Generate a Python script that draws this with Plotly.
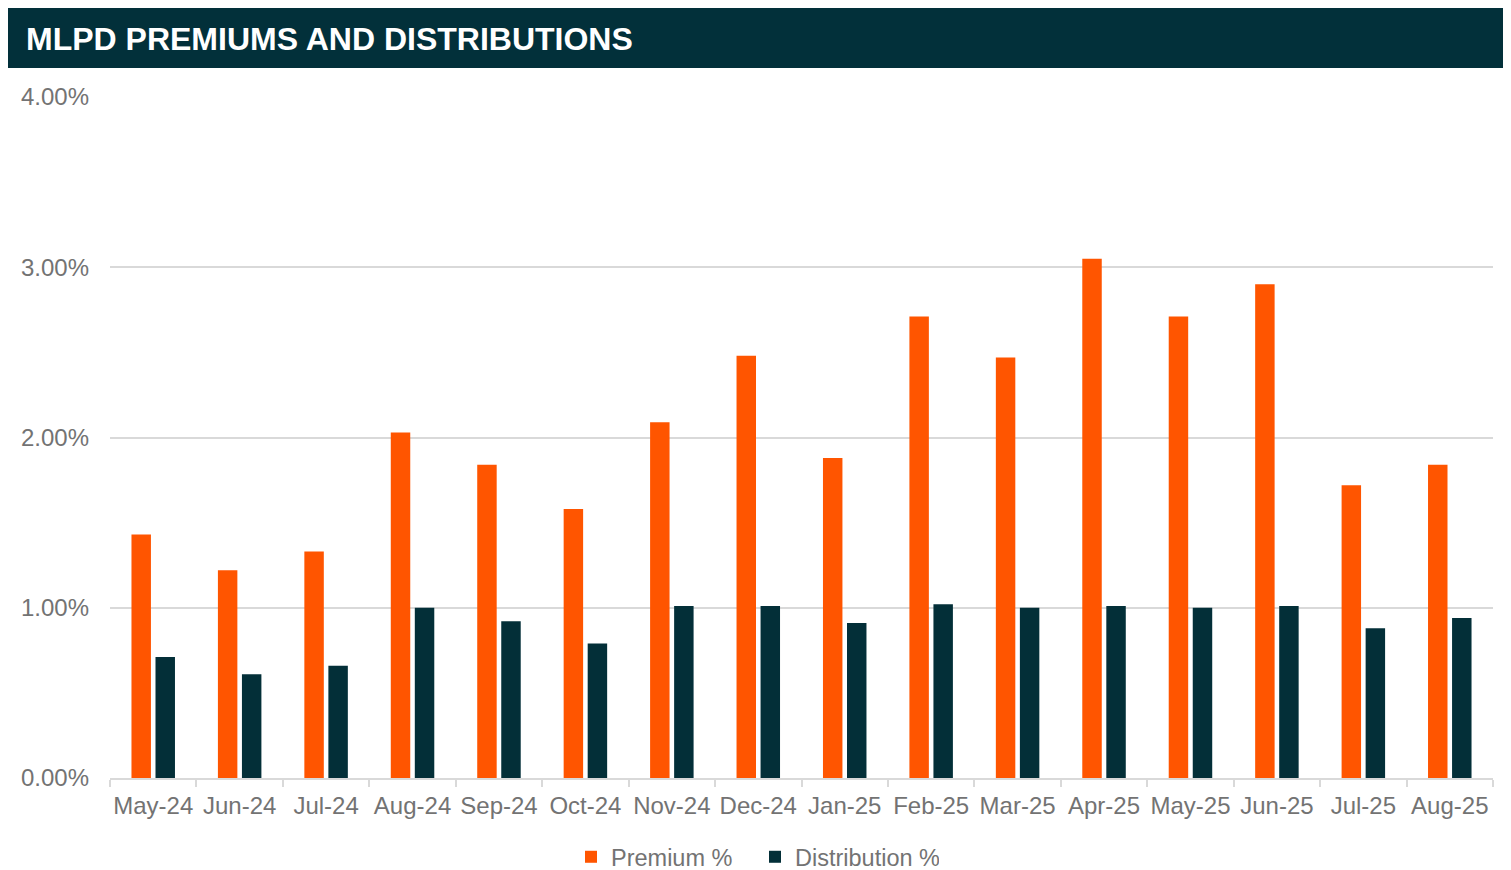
import plotly.graph_objects as go

months = ["May-24", "Jun-24", "Jul-24", "Aug-24", "Sep-24", "Oct-24", "Nov-24", "Dec-24",
          "Jan-25", "Feb-25", "Mar-25", "Apr-25", "May-25", "Jun-25", "Jul-25", "Aug-25"]
premium = [1.43, 1.22, 1.33, 2.03, 1.84, 1.58, 2.09, 2.48,
           1.88, 2.71, 2.47, 3.05, 2.71, 2.90, 1.72, 1.84]
distribution = [0.71, 0.61, 0.66, 1.00, 0.92, 0.79, 1.01, 1.01,
                0.91, 1.02, 1.00, 1.01, 1.00, 1.01, 0.88, 0.94]
y_ticks = [0, 1, 2, 3, 4]
y_tick_labels = ["0.00%", "1.00%", "2.00%", "3.00%", "4.00%"]

ORANGE = "#FF5500"
TEAL = "#032F38"
GRAY_TXT = "#737373"
FONT = "Liberation Sans, Arial, sans-serif"

fig = go.Figure()
fig.add_trace(go.Bar(x=months, y=premium, name="Premium %", marker_color=ORANGE,
                     marker_line_width=0))
fig.add_trace(go.Bar(x=months, y=distribution, name="Distribution %", marker_color=TEAL,
                     marker_line_width=0))

# page has an 8px body margin; figure coords = reference coords - 8
OFF = 8
W, H = 1511 - OFF, 870 - OFF
ml, mr, mt, mb = 110 - OFF, 18, 97 - OFF, 92
pw = W - ml - mr
ph = H - mt - mb

def px_x(x):
    return (x - OFF - ml) / pw

def px_y(y):
    return (H - mb - (y - OFF)) / ph

fig.update_layout(
    width=W, height=H, autosize=False,
    margin=dict(l=ml, r=mr, t=mt, b=mb, autoexpand=False),
    paper_bgcolor="white", plot_bgcolor="white",
    font=dict(family=FONT, size=24, color=GRAY_TXT),
    barmode="group", bargap=0.444, bargroupgap=0.19,
    showlegend=True,
    legend=dict(orientation="h", x=px_x(571), xanchor="left",
                y=px_y(857), yanchor="middle", font=dict(size=23.5, color=GRAY_TXT),
                traceorder="normal", entrywidth=139, entrywidthmode="pixels"),
    shapes=[dict(type="rect", xref="paper", yref="paper",
                 x0=px_x(0), x1=px_x(1515), y0=px_y(68), y1=px_y(8),
                 fillcolor="#02303A", line_width=0, layer="above")],
    annotations=[dict(text="<b>MLPD PREMIUMS AND DISTRIBUTIONS</b>", xref="paper", yref="paper",
                      x=px_x(24), y=px_y(39), xanchor="left", yanchor="middle",
                      showarrow=False, font=dict(family=FONT, size=32, color="white"))],
)
fig.update_xaxes(showgrid=False, showline=True, linecolor="#D9D9D9", linewidth=2,
                 ticks="outside", tickson="boundaries", ticklen=7, tickwidth=2,
                 tickangle=0, automargin=False, ticklabelstandoff=5,
                 tickcolor="#D9D9D9", tickfont=dict(size=24, color=GRAY_TXT))
fig.update_yaxes(range=[0, 4], tickvals=y_ticks, ticktext=y_tick_labels,
                 showgrid=True, gridcolor="#D9D9D9", gridwidth=2, zeroline=False,
                 showline=False, ticks="", ticklabelstandoff=20, automargin=False,
                 tickfont=dict(size=24, color=GRAY_TXT))

fig.write_html("out.html")
